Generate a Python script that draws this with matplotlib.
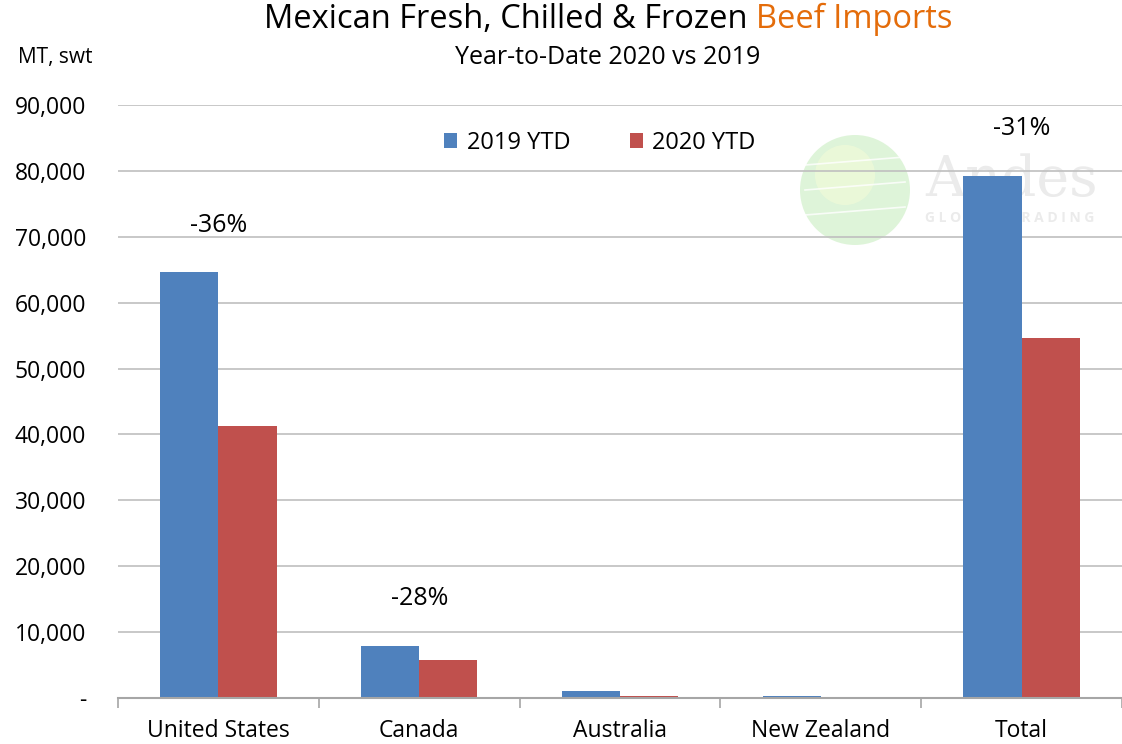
import matplotlib.pyplot as plt
from matplotlib.patches import Circle
from matplotlib.ticker import FuncFormatter, MultipleLocator
import numpy as np

plt.rcParams['font.family'] = ['Open Sans', 'DejaVu Sans']

categories = ['United States', 'Canada', 'Australia', 'New Zealand', 'Total']
ytd_2019 = [64600, 7900, 1050, 350, 79200]
ytd_2020 = [41300, 5700, 350, 30, 54600]
labelled = ['United States', 'Canada', 'Total']

blue = '#4F81BD'
red = '#C0504D'

fig = plt.figure(figsize=(11.22, 7.44), dpi=100)
ax = fig.add_axes([118 / 1122, 1 - 698 / 744, 1 - 118 / 1122, 593 / 744])

x = np.arange(len(categories))
w = 0.29
ax.bar(x - w / 2, ytd_2019, w, color=blue, label='2019 YTD', zorder=3)
ax.bar(x + w / 2, ytd_2020, w, color=red, label='2020 YTD', zorder=3)

# percent change above the groups
for i, cat in enumerate(categories):
    if cat not in labelled:
        continue
    pct = (ytd_2020[i] - ytd_2019[i]) / ytd_2019[i] * 100
    top = max(ytd_2019[i], ytd_2020[i])
    ax.annotate(f'{pct:.0f}%', (x[i], top), xytext=(0, 34), textcoords='offset points',
                ha='center', va='center', fontsize=18, zorder=4)

ax.set_xlim(-0.5, len(categories) - 0.5)
ax.set_ylim(0, 90000)
ax.yaxis.set_major_locator(MultipleLocator(10000))
ax.yaxis.set_major_formatter(FuncFormatter(lambda v, p: '-' if v == 0 else f'{v:,.0f}'))
ax.grid(axis='y', color='#BFBFBF', linewidth=1.2, zorder=0)

ax.set_xticks(x)
ax.set_xticklabels(categories)
ax.set_xticks(np.arange(len(categories) + 1) - 0.5, minor=True)
ax.tick_params(axis='x', which='major', length=0, pad=15, labelsize=16.5)
ax.tick_params(axis='x', which='minor', length=7, width=1.2, color='#A6A6A6')
ax.tick_params(axis='y', length=0, pad=23, labelsize=16.5)

for s in ['top', 'right', 'left']:
    ax.spines[s].set_visible(False)
ax.spines['bottom'].set_color('#A6A6A6')
ax.spines['bottom'].set_linewidth(1.5)
ax.spines['bottom'].set_zorder(5)

ax.legend(loc='center', bbox_to_anchor=(0.48, 0.936), ncol=2, frameon=False,
          fontsize=17, handlelength=0.55, handleheight=0.55, handletextpad=0.4,
          columnspacing=2.5)

# faint logo behind the plot
logo = fig.add_axes([0, 0, 1, 1], zorder=-1)
logo.set_xlim(0, 1122)
logo.set_ylim(744, 0)
logo.axis('off')
logo.add_patch(Circle((855, 190), 55, color='#D6F2D0', alpha=0.8, lw=0))
logo.add_patch(Circle((845, 175), 30, color='#EEFAD8', alpha=0.8, lw=0))
for dy in (-25, 0, 25):
    logo.plot([805, 905], [190 + dy, 190 + dy - 8], color='white', lw=1.2, alpha=0.8)
logo.text(1012, 196, 'Andes', family='DejaVu Serif', fontsize=40, color='#EBEBEB',
          ha='center', va='baseline')
logo.text(1010, 218, 'G L O B A L   T R A D I N G', fontsize=10, color='#EBEBEB',
          ha='center', va='center', fontweight='bold')
fig.patch.set_facecolor('white')
ax.set_facecolor('none')

# two-colour title, centred as a whole
t1 = fig.text(0.2, 1 - 20 / 744, 'Mexican Fresh, Chilled & Frozen ', fontsize=23.5,
              ha='left', va='center')
t2 = ax.annotate('Beef Imports', xy=(1, 0), xycoords=t1, ha='left', va='bottom',
                 fontsize=23.5, color='#E46C0A', annotation_clip=False)
fig.canvas.draw()
r = fig.canvas.get_renderer()
b1, b2 = t1.get_window_extent(r), t2.get_window_extent(r)
total = b2.x1 - b1.x0
t1.set_x((608 - total / 2) / 1122)

fig.text(608 / 1122, 1 - 57 / 744, 'Year-to-Date 2020 vs 2019', fontsize=18,
         ha='center', va='center')
fig.text(55 / 1122, 1 - 58 / 744, 'MT, swt', fontsize=15, ha='center', va='center')

fig.savefig('out.png', dpi=100)
